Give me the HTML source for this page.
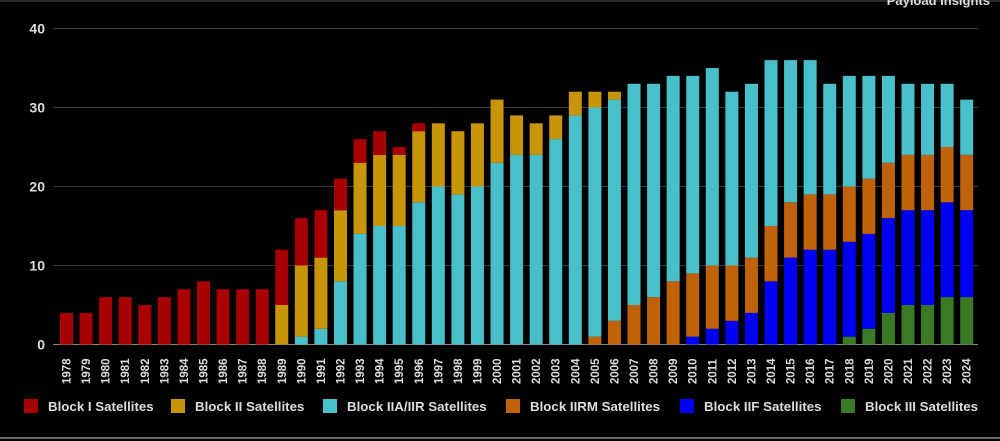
<!DOCTYPE html>
<html><head><meta charset="utf-8"><style>
html,body{margin:0;padding:0;background:#000;}
svg{display:block;font-family:"Liberation Sans",Arial,sans-serif;}
</style></head><body>
<svg id="chart" width="1000" height="441" viewBox="0 0 1000 441">
<rect x="0" y="0" width="1000" height="441" fill="#000"/>
<line x1="0" y1="1" x2="1000" y2="1" stroke="#555"/>
<line x1="0" y1="438" x2="1000" y2="438" stroke="#666" stroke-width="2"/>
<text x="990" y="5" text-anchor="end" fill="#ddd" font-size="13" font-weight="bold">Payload Insights</text>
<g id="grid"></g><g id="bars"></g><g id="xlabels"></g><g id="legend"></g>
</svg>
<script>
const years = [];
for (let y = 1978; y <= 2024; y++) years.push(y);
const blockI   = [4,4,6,6,5,6,7,8,7,7,7,7,6,6,4,3,3,1,1,0,0,0,0,0,0,0,0,0,0,0,0,0,0,0,0,0,0,0,0,0,0,0,0,0,0,0,0];
const blockII  = [0,0,0,0,0,0,0,0,0,0,0,5,9,9,9,9,9,9,9,8,8,8,8,5,4,3,3,2,1,0,0,0,0,0,0,0,0,0,0,0,0,0,0,0,0,0,0];
const blockIIA = [0,0,0,0,0,0,0,0,0,0,0,0,1,2,8,14,15,15,18,20,19,20,23,24,24,26,29,29,28,28,27,26,25,25,22,22,21,18,17,14,14,13,11,9,9,8,7];
const blockIIRM= [0,0,0,0,0,0,0,0,0,0,0,0,0,0,0,0,0,0,0,0,0,0,0,0,0,0,0,1,3,5,6,8,8,8,7,7,7,7,7,7,7,7,7,7,7,7,7];
const blockIIF = [0,0,0,0,0,0,0,0,0,0,0,0,0,0,0,0,0,0,0,0,0,0,0,0,0,0,0,0,0,0,0,0,1,2,3,4,8,11,12,12,12,12,12,12,12,12,11];
const blockIII = [0,0,0,0,0,0,0,0,0,0,0,0,0,0,0,0,0,0,0,0,0,0,0,0,0,0,0,0,0,0,0,0,0,0,0,0,0,0,0,0,1,2,4,5,5,6,6];
const yTicks = [0,10,20,30,40];
const seriesNames = ["Block I Satellites","Block II Satellites","Block IIA/IIR Satellites","Block IIRM Satellites","Block IIF Satellites","Block III Satellites"];

const NS="http://www.w3.org/2000/svg";
function mk(tag, attrs, parent){const e=document.createElementNS(NS,tag);for(const k in attrs)e.setAttribute(k,attrs[k]);parent.appendChild(e);return e;}
const y0=344.5, y40=28.5, yMax=40;
function yScale(v){return y0-(v/yMax)*(y0-y40);}
const xStart=66.5, band=(966.7-66.5)/46, barW=13;
function xScale(i){return xStart+i*band;}

const grid=document.getElementById('grid');
yTicks.forEach(t=>{
  const l=mk('line',{x1:53,x2:978,y1:yScale(t),y2:yScale(t),stroke:t===0?'#888':'#3a3a3a','stroke-width':1},grid);
  
  
  const tx=mk('text',{x:45,y:yScale(t)+5,'text-anchor':'end',fill:'#ddd','font-size':14,'font-weight':'bold'},grid);
  tx.textContent=t;
  
  
});

const stack=[
  {d:blockIII,c:'#3a7a25',n:'block-iii'},
  {d:blockIIF,c:'#0000f5',n:'block-iif'},
  {d:blockIIRM,c:'#c0620a',n:'block-iirm'},
  {d:blockIIA,c:'#48bfc9',n:'block-iia-iir'},
  {d:blockII,c:'#c8940a',n:'block-ii'},
  {d:blockI,c:'#a80000',n:'block-i'}
];
const bars=document.getElementById('bars');
years.forEach((yr,i)=>{
  let cum=0;
  stack.forEach(s=>{
    const v=s.d[i];
    if(v>0){
      const r=mk('rect',{x:xScale(i)-barW/2,y:yScale(cum+v),width:barW,height:yScale(cum)-yScale(cum+v),fill:s.c},bars);
      
      
    }
    cum+=v;
  });
});

const xl=document.getElementById('xlabels');
years.forEach((yr,i)=>{
  const t=mk('text',{transform:'translate('+(xScale(i)+4)+',384) rotate(-90)',fill:'#ddd','font-size':11.5,'font-weight':'bold'},xl);
  t.textContent=yr;
  
  
});

const lg=document.getElementById('legend');
const legendColors=['#a80000','#c8940a','#48bfc9','#c0620a','#0000f5','#3a7a25'];
const legendX=[24,171,323,506,680,841];
seriesNames.forEach((n,i)=>{
  const g=mk('g',{},lg);
  
  
  const r=mk('rect',{x:legendX[i],y:399,width:14,height:14,fill:legendColors[i]},g);
  
  
  const t=mk('text',{x:legendX[i]+24,y:411,fill:'#ddd','font-size':13.3,'font-weight':'bold'},g);
  t.textContent=n;
  
  
});
</script>
</body></html>
